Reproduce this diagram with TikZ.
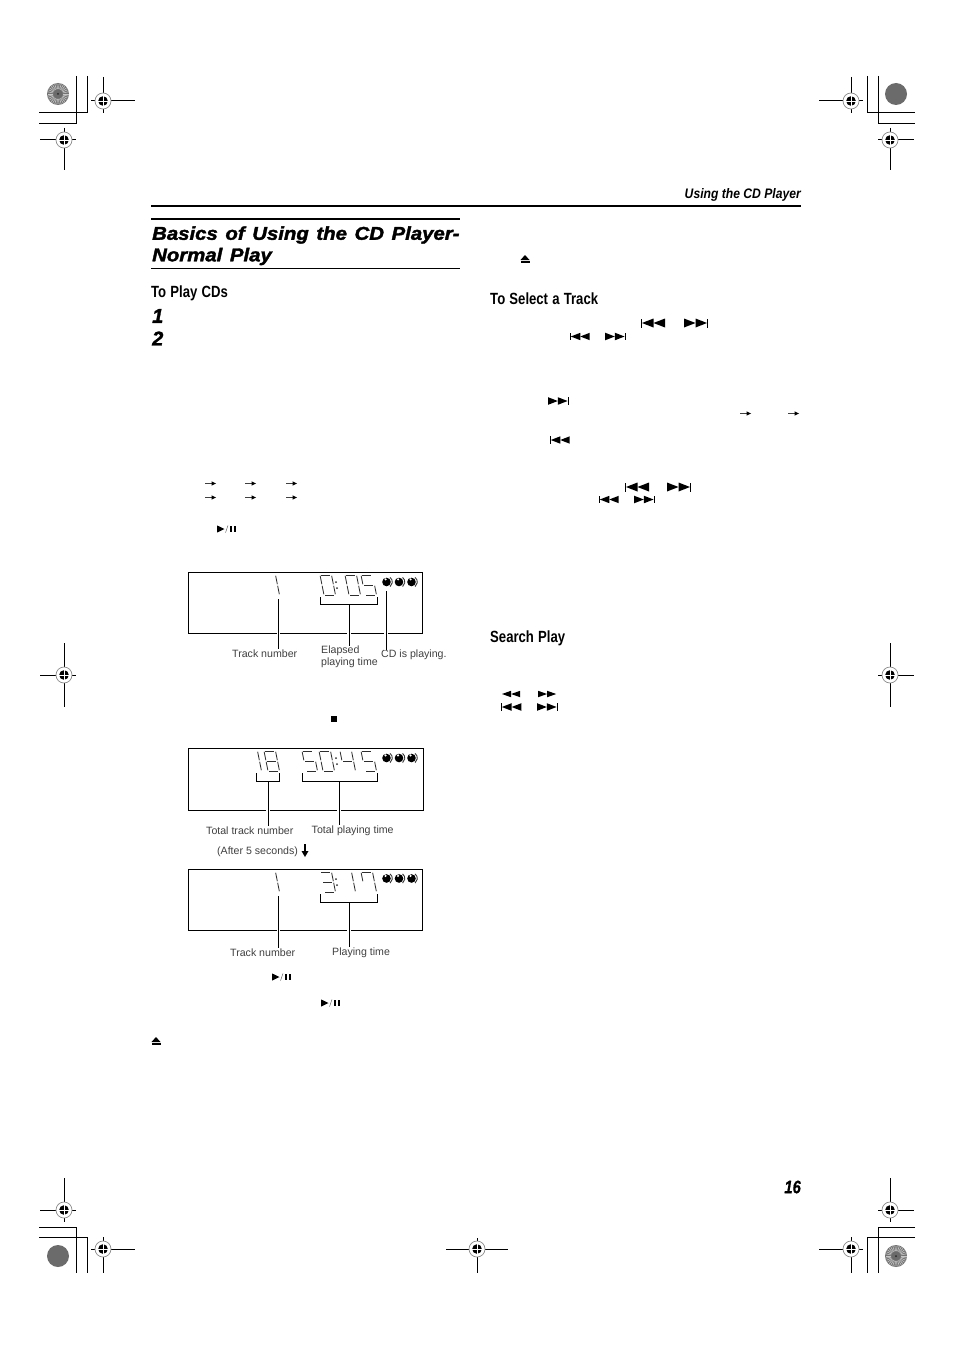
\documentclass[tikz,border=0pt]{standalone}
\usepackage{fontspec}
\setmainfont{Liberation Sans}
\newfontfamily\condfont[FakeStretch=0.81,WordSpace=1.15]{Liberation Sans}
\newfontfamily\hdrfont[FakeStretch=0.88]{Liberation Sans}
\newfontfamily\widefont[FakeStretch=1.1,FakeBold=2,WordSpace=1.35]{Liberation Sans}
\newfontfamily\numfont[FakeBold=1.6]{Liberation Sans}
\newfontfamily\pgfont[FakeStretch=0.82,FakeBold=0.8]{Liberation Sans}
\colorlet{dgt}{black!82}
\tikzset{
 x=1pt,y=-1pt,
 rule/.style={line width=0.9pt,black},
 crop/.style={line width=1pt,black},
 lead/.style={line width=0.9pt,black,preaction={draw,white,line width=3.6pt}},
 brk/.style={line width=0.9pt,black},
 dbox/.style={line width=0.9pt,black},
 lab/.style={inner sep=0pt,font=\fontsize{10.6}{11.5}\selectfont,text=black!75,anchor=west},
 head/.style={inner sep=0pt,anchor=west,font=\condfont\bfseries\fontsize{16.2}{18}\selectfont},
 num/.style={inner sep=0pt,anchor=west,font=\numfont\bfseries\itshape\fontsize{20}{20}\selectfont},
 seg/.style={line width=0.85pt,dgt,line cap=butt},
 sym/.style={fill=black,draw=none},
}
\newcommand{\regmark}[6]{%
 \draw[crop] (#3,#2) -- (#4,#2);
 \draw[crop] (#1,#5) -- (#1,#6);
 \draw[black!45,line width=0.7pt,fill=white] (#1,#2) circle[radius=8];
 \fill[black] (#1,#2) circle[radius=4.8];
 \draw[white,line width=0.5pt] (#1-5,#2) -- (#1+5,#2) (#1,#2-5) -- (#1,#2+5);
}
\newcommand{\burst}[2]{%
 \fill[black!55] (#1,#2) circle[radius=11];
 \foreach \a in {0,12,...,348}{
  \draw[black!22,line width=0.6pt] ({#1+5*cos(\a)},{#2+5*sin(\a)}) -- ({#1+10.5*cos(\a)},{#2+10.5*sin(\a)});
 }
 \fill[black!58] (#1,#2) circle[radius=4.5];
 \fill[black!85] (#1,#2) circle[radius=1];
}
\newcommand{\greydisc}[2]{%
 \fill[black!58] (#1,#2) circle[radius=11];
}
\newcommand{\prevsym}[3]{\begin{scope}[shift={(#1,#2)},scale=#3]
 \fill[sym] (0,-4.5) rectangle (0.9,4.5);
 \fill[sym] (1,0) -- (12.5,-4.5) -- (12.5,4.5) -- cycle;
 \fill[sym] (12.5,0) -- (24,-4.5) -- (24,4.5) -- cycle;
 \end{scope}}
\newcommand{\nextsym}[3]{\begin{scope}[shift={(#1,#2)},scale=#3]
 \fill[sym] (0,-4.5) -- (11.5,0) -- (0,4.5) -- cycle;
 \fill[sym] (11.5,-4.5) -- (23,0) -- (11.5,4.5) -- cycle;
 \fill[sym] (23.1,-4.5) rectangle (24,4.5);
 \end{scope}}
\newcommand{\revsym}[2]{\begin{scope}[shift={(#1,#2)},scale=.65]
 \fill[sym] (0,0) -- (14,-5) -- (14,5) -- cycle;
 \fill[sym] (14,0) -- (28,-5) -- (28,5) -- cycle;
 \end{scope}}
\newcommand{\fwdsym}[2]{\begin{scope}[shift={(#1,#2)},scale=.65]
 \fill[sym] (0,-5) -- (14,0) -- (0,5) -- cycle;
 \fill[sym] (14,-5) -- (28,0) -- (14,5) -- cycle;
 \end{scope}}
\newcommand{\ejectsym}[2]{%
 \fill[sym] (#1,#2-4) -- (#1+4.5,#2+1) -- (#1-4.5,#2+1) -- cycle;
 \fill[sym] (#1-4.5,#2+2.4) rectangle (#1+4.5,#2+4);
}
\newcommand{\playpause}[2]{\begin{scope}[shift={(#1,#2)}]
 \fill[sym] (0,-3.6) -- (7.5,0) -- (0,3.6) -- cycle;
 \draw[line width=0.4pt,black!70] (8.5,3.6) -- (11,-3.6);
 \fill[sym] (12.8,-3.4) rectangle (15,3.4);
 \fill[sym] (16.5,-3.4) rectangle (18.7,3.4);
 \end{scope}}
\newcommand{\arrowsym}[2]{\begin{scope}[shift={(#1,#2)}]
 \draw[line width=0.9pt,black!75] (0,0) -- (7,0);
 \fill[sym] (6.5,-2.2) -- (11,0) -- (6.5,2.2) -- cycle;
 \end{scope}}
\newcommand{\dseg}[4]{\draw[seg] ({\dgx+#1*\dgw+#2*4},{\dgy+#2*20}) -- ({\dgx+#3*\dgw+#4*4},{\dgy+#4*20});}
\newcommand{\seva}{\dseg{.1}{0}{.9}{0}}
\newcommand{\sevb}{\dseg{1}{.04}{1}{.46}}
\newcommand{\sevc}{\dseg{1}{.54}{1}{.96}}
\newcommand{\sevd}{\dseg{.1}{1}{.9}{1}}
\newcommand{\seve}{\dseg{0}{.54}{0}{.96}}
\newcommand{\sevf}{\dseg{0}{.04}{0}{.46}}
\newcommand{\sevg}{\dseg{.1}{.5}{.9}{.5}}
\newcommand{\digit}[3]{\def\dgx{#1}\def\dgy{#2}\def\dgw{11.5}#3}
\newcommand{\dzero}[2]{\digit{#1}{#2}{\seva\sevb\sevc\sevd\seve\sevf}}
\newcommand{\done}[2]{\digit{#1}{#2}{\sevb\sevc}}
\newcommand{\dthree}[2]{\digit{#1}{#2}{\seva\sevb\sevc\sevd\sevg}}
\newcommand{\dfour}[2]{\digit{#1}{#2}{\sevb\sevc\sevf\sevg}}
\newcommand{\dfive}[2]{\digit{#1}{#2}{\seva\sevc\sevd\sevf\sevg}}
\newcommand{\dseven}[2]{\digit{#1}{#2}{\seva\sevb\sevc\sevf}}
\newcommand{\deight}[2]{\digit{#1}{#2}{\seva\sevb\sevc\sevd\seve\sevf\sevg}}
\newcommand{\dcolon}[2]{\fill[dgt] (#1,#2+7) circle[radius=1] (#1+1,#2+13) circle[radius=1];}
\newcommand{\cdicon}[2]{\begin{scope}[shift={(#1,#2)}]
 \fill[black] (0,0) circle[radius=4.3];
 \fill[white] (-.9,-2.6) circle[radius=1.2];
 \draw[black!80,line width=.9pt] (3.6,-4.6) arc[start angle=-52,end angle=52,radius=5.8];
 \end{scope}}
\newcommand{\cdicons}[2]{\cdicon{#1}{#2}\cdicon{#1+12.5}{#2}\cdicon{#1+25}{#2}}
\begin{document}
\begin{tikzpicture}
\useasboundingbox (0,0) rectangle (954,1351);
\fill[white] (0,0) rectangle (954,1351);

% crop marks
\draw[crop] (87,76) -- (87,113) -- (39,113);
\draw[crop] (76,76) -- (76,124) -- (39,124);
\draw[crop] (867,76) -- (867,113) -- (915,113);
\draw[crop] (878,76) -- (878,124) -- (915,124);
\draw[crop] (39,1227) -- (76,1227) -- (76,1273);
\draw[crop] (39,1237) -- (87,1237) -- (87,1273);
\draw[crop] (915,1227) -- (878,1227) -- (878,1273);
\draw[crop] (915,1237) -- (867,1237) -- (867,1273);

\regmark{103}{101}{91}{135}{77}{113}
\regmark{64}{140}{40}{76}{128}{170}
\regmark{851}{101}{819}{863}{77}{113}
\regmark{890}{140}{878}{914}{128}{170}
\regmark{64}{1210}{40}{76}{1178}{1222}
\regmark{103}{1249}{91}{135}{1237}{1273}
\regmark{890}{1210}{878}{914}{1178}{1222}
\regmark{851}{1249}{819}{863}{1237}{1273}
\regmark{64}{675}{40}{76}{643}{707}
\regmark{890}{675}{878}{914}{643}{707}
\regmark{477}{1249}{446}{508}{1238}{1273}

\burst{58}{94}
\greydisc{896}{94}
\greydisc{58}{1256}
\burst{896}{1256}

% header
\node[inner sep=0pt,anchor=east,font=\hdrfont\bfseries\itshape\fontsize{13.8}{15}\selectfont] (hdr) at (801,194.5) {Using the CD Player};
\draw[line width=1.3pt] (151,206) -- (801,206);

% title
\draw[line width=2.8pt] (151,219) -- (460,219);
\node[inner sep=0pt,anchor=west,font=\widefont\bfseries\itshape\fontsize{18.5}{21}\selectfont] (t1) at (152,235) {Basics of Using the CD Player-};
\node[inner sep=0pt,anchor=west,font=\widefont\bfseries\itshape\fontsize{18.5}{21}\selectfont] (t2) at (152,256.5) {Normal Play};
\draw[rule] (151,268) -- (460,268);

\node[head] (h1) at (151,293) {To Play CDs};
\node[num] (n1) at (152,316) {1};
\node[num] (n2) at (152,338.5) {2};
\node[head] (h2) at (490,298.5) {To Select a Track};
\node[head] (h3) at (490,638) {Search Play};

% symbols left column
\arrowsym{205}{483.5}\arrowsym{245}{483.5}\arrowsym{286}{483.5}
\arrowsym{205}{497.5}\arrowsym{245}{497.5}\arrowsym{286}{497.5}
\playpause{217}{529}
\fill[sym] (331,716) rectangle (337,722);
\playpause{272}{977}
\playpause{321}{1003}
\ejectsym{156}{1041}

% symbols right column
\ejectsym{525}{259}
\prevsym{641}{323}{1}
\nextsym{684}{323}{1}
\prevsym{570}{336.5}{.82}
\nextsym{605}{336.5}{.85}
\nextsym{548}{401}{.85}
\arrowsym{740}{413.5}\arrowsym{788}{413.5}
\prevsym{550}{440}{.82}
\prevsym{625}{487}{1}
\nextsym{667}{487}{1}
\prevsym{599}{499.5}{.82}
\nextsym{634}{499.5}{.85}
\revsym{502}{694}
\fwdsym{538}{694}
\prevsym{501}{707}{.85}
\nextsym{537}{707}{.85}

% display 1
\draw[dbox] (188,572.5) rectangle (422.5,633.5);
\done{264}{575}
\dzero{320}{575}\dcolon{336}{575}\dzero{345}{575}\dfive{361}{575}
\node[lab] (l1a) at (232,653.5) {Track number};
\node[lab,align=left] (l1b) at (321,657) {Elapsed\\playing time};
\node[lab] (l1c) at (381,655) {CD is playing.};
\coordinate (b1a) at (278.5,599);
\coordinate (b1b) at (349,604);
\coordinate (b1c) at (386,591);
\draw[lead] (b1a) -- (b1a |- l1a.north);
\draw[lead] (b1b) -- (b1b |- l1b.north);
\draw[lead] (b1c) -- (b1c |- l1c.north);
\draw[brk] (320.5,597) -- (320.5,604) -- (377,604) -- (377,597);
\cdicons{386.5}{582}

% display 2
\draw[dbox] (188,748.5) rectangle (423.5,810);
\done{246}{751}
\deight{264}{751}
\dfive{302}{751}\dzero{319}{751}\dcolon{336}{751}\dfour{340}{751}\dfive{361}{751}
\node[lab] (l2a) at (206,830.5) {Total track number};
\node[lab] (l2b) at (311.5,830.5) {Total playing time};
\coordinate (b2a) at (268,781);
\coordinate (b2b) at (339,781);
\draw[lead] (b2a) -- (b2a |- l2a.north);
\draw[lead] (b2b) -- (b2b |- l2b.north);
\draw[brk] (256.5,773) -- (256.5,781) -- (279.5,781) -- (279.5,773);
\draw[brk] (302.5,773) -- (302.5,781) -- (377,781) -- (377,773);
\cdicons{386.5}{758}
\node[lab] (l2c) at (217,851.5) {(After 5 seconds)};
\draw[line width=1.3pt] (305,844) -- (305,852);
\fill[sym] (301.5,851) -- (308.5,851) -- (305,857) -- cycle;

% display 3
\draw[dbox] (188,869.5) rectangle (422.5,930.5);
\done{264}{872}
\dthree{320}{872}\dcolon{336}{872}\done{340}{872}\dseven{361}{872}
\node[lab] (l3a) at (230,952.5) {Track number};
\node[lab] (l3b) at (332,952.5) {Playing time};
\coordinate (b3a) at (278.5,896);
\coordinate (b3b) at (349,902);
\draw[lead] (b3a) -- (b3a |- l3a.north);
\draw[lead] (b3b) -- (b3b |- l3b.north);
\draw[brk] (320.5,894) -- (320.5,902) -- (377,902) -- (377,894);
\cdicons{386.5}{878.5}

% page number
\node[inner sep=0pt,anchor=east,font=\pgfont\bfseries\itshape\fontsize{18}{20}\selectfont] (pg) at (801,1187) {16};
\end{tikzpicture}
\end{document}
